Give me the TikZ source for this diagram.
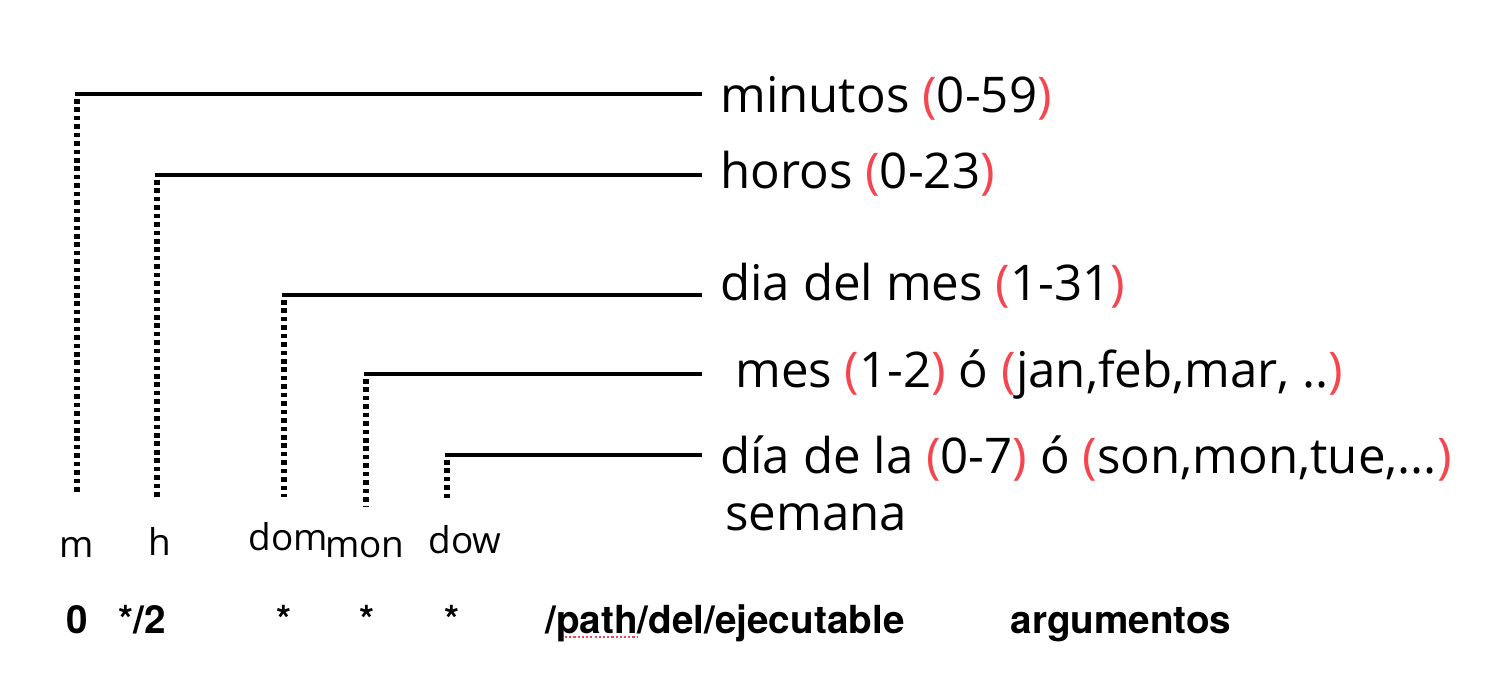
\documentclass[tikz,border=0pt]{standalone}
\usepackage{fontspec}
\setmainfont{Open Sans}
\newfontfamily\boldrow{TeX Gyre Heros}
\usetikzlibrary{calc}
\definecolor{parred}{RGB}{245,70,80}
\newcommand{\rp}[1]{\textcolor{parred}{#1}}
\tikzset{
    bar/.style = {line width=2.8pt, line cap=rect},
    dots/.style = {line width=3.2pt, dash pattern=on 2.6pt off 2.2pt},
    hand/.style = {anchor=base west, inner sep=0pt, font=\fontsize{28}{30}\selectfont},
    field/.style = {anchor=base, inner sep=0pt, font=\fontsize{21}{24}\selectfont},
    cmd/.style = {anchor=base, inner sep=0pt, font=\boldrow\bfseries\fontsize{22}{24}\selectfont},
    spell/.style = {parred, line width=0.9pt, dash pattern=on 1.2pt off 1.2pt}
}

\begin{document}
\begin{tikzpicture}
    \useasboundingbox (0,0) rectangle (29.84,-13.96);
    % corners of the brackets
    \coordinate (cm) at (1.54,-1.88);
    \coordinate (ch) at (3.14,-3.50);
    \coordinate (cdom) at (5.68,-5.90);
    \coordinate (cmon) at (7.32,-7.48);
    \coordinate (cdow) at (8.94,-9.10);
    % handwritten descriptions
    \node[hand] (minutos) at (14.4,-2.24) {minutos \rp{(}0-59\rp{)}};
    \node[hand] (horas) at (14.4,-3.76) {horos \rp{(}0-23\rp{)}};
    \node[hand] (diames) at (14.4,-6.00) {dia del mes \rp{(}1-31\rp{)}};
    \node[hand] (mes) at (14.7,-7.74) {mes \rp{(}1-2\rp{)} ó \rp{(}jan,feb,mar, ..\rp{)}};
    \node[hand] (diasem) at (14.4,-9.46) {día de la \rp{(}0-7\rp{)} ó \rp{(}son,mon,tue,...\rp{)}};
    \node[hand] (semana) at (14.5,-10.60) {semana};
    % field names
    \node[field] (m) at (1.54,-11.14) {m};
    \node[field] (h) at (3.20,-11.10) {h};
    \node[field] (dom) at (5.76,-11.00) {dom};
    \node[field] (mon) at (7.30,-11.14) {mon};
    \node[field] (dow) at (9.30,-11.06) {dow};
    % crontab line
    \node[cmd] (v0) at (1.54,-12.66) {0};
    \node[cmd] (v1) at (2.84,-12.66) {*/2};
    \node[cmd] (v2) at (5.68,-12.66) {*};
    \node[cmd] (v3) at (7.34,-12.66) {*};
    \node[cmd] (v4) at (9.04,-12.66) {*};
    \node[cmd] (path) at (14.50,-12.66) {/path/del/ejecutable};
    \node[cmd] (args) at (22.42,-12.66) {argumentos};
    \draw[spell] (11.30,-12.74) -- (12.76,-12.74);
    % brackets
    \draw[bar] (cm) -- ($(cm -| minutos.west)+(-0.4,0)$);
    \draw[bar] (ch) -- ($(ch -| horas.west)+(-0.4,0)$);
    \draw[bar] (cdom) -- ($(cdom -| diames.west)+(-0.4,0)$);
    \draw[bar] (cmon) -- ($(cmon -| mes.west)+(-0.7,0)$);
    \draw[bar] (cdow) -- ($(cdow -| diasem.west)+(-0.4,0)$);
    \draw[dots] ($(cm)+(0,-0.1)$) -- ($(m.north)+(0,0.85)$);
    \draw[dots] ($(ch)+(0,-0.1)$) -- ($(ch |- h.north)+(0,0.58)$);
    \draw[dots] ($(cdom)+(0,-0.1)$) -- ($(cdom |- dom.north)+(0,0.5)$);
    \draw[dots] ($(cmon)+(0,-0.1)$) -- ($(cmon |- mon.north)+(0,0.6)$);
    \draw[dots] ($(cdow)+(0,-0.1)$) -- ($(cdow |- dow.north)+(0,0.5)$);
\end{tikzpicture}
\end{document}
